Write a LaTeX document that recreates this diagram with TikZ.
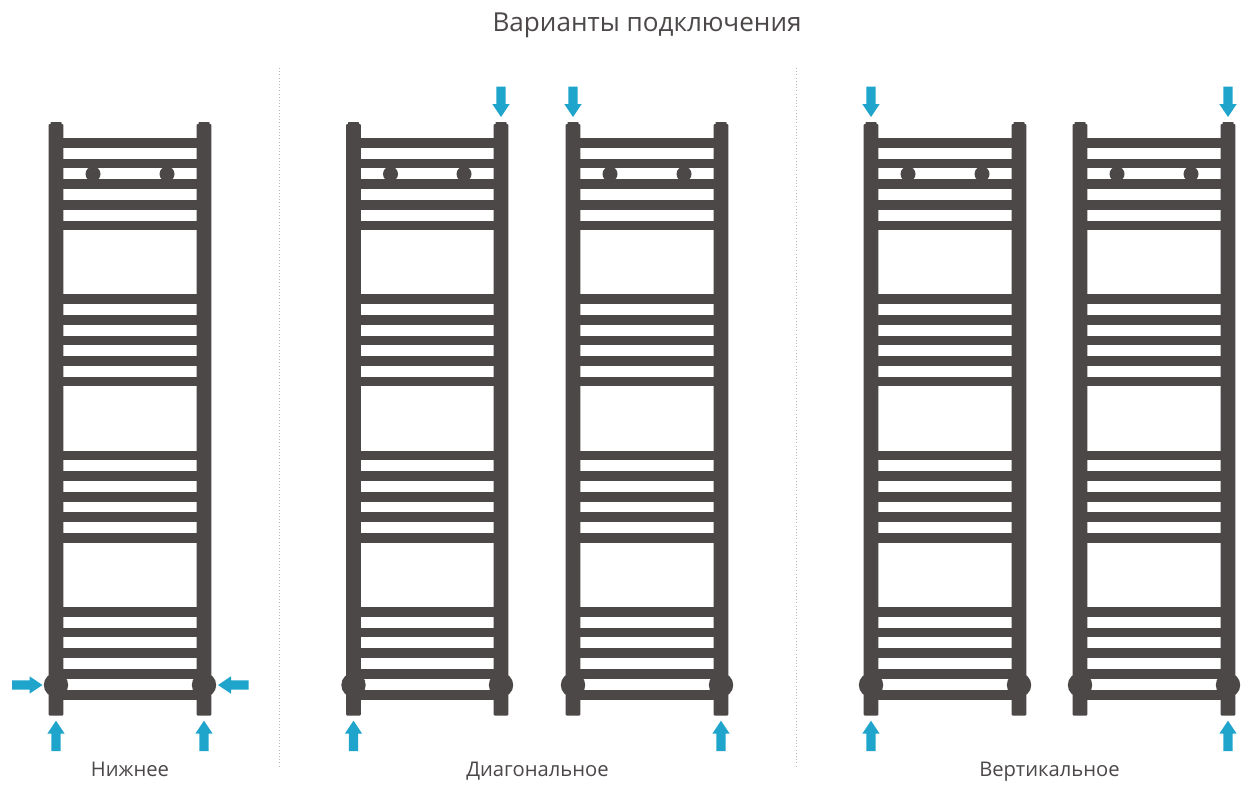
\documentclass[tikz,border=0pt]{standalone}
\usepackage{fontspec}
\setmainfont{Open Sans}
\definecolor{rail}{HTML}{4C4848}
\definecolor{flow}{HTML}{1FA5CC}
\definecolor{dots}{HTML}{B8B8B8}
\newcommand{\arrowshape}[3]{% x, y, rotate
  \fill[flow,shift={(#1,#2)},rotate=#3] (0,0) -- (8.7,13) -- (4.6,13) -- (4.6,30.5) -- (-4.6,30.5) -- (-4.6,13) -- (-8.7,13) -- cycle;}
\newcommand{\towel}[2]{% left rail x, right rail x
  \fill[rail,rounded corners=1pt] (#1-7.3,124) rectangle (#1+7.3,715.5);
  \fill[rail,rounded corners=1pt] (#2-7.3,124) rectangle (#2+7.3,715.5);
  \fill[rail,rounded corners=.6pt] (#1-5.5,122) rectangle (#1+5.5,126);
  \fill[rail,rounded corners=.6pt] (#2-5.5,122) rectangle (#2+5.5,126);
  \foreach \by in {143,163.5,184,205,225.5,299,320,340.5,361,381.5,455.5,476,497,517,538,612,632.5,653,674,694.7}
    {\fill[rail] (#1,\by-4.8) rectangle (#2,\by+4.8);}
  \fill[rail] (#1+37,174) circle (7.5);
  \fill[rail] (#2-37,174) circle (7.5);
  \fill[rail] (#1,685) circle (12.2);
  \fill[rail] (#2,685) circle (12.2);
}
\begin{document}
\begin{tikzpicture}[x=1pt,y=-1pt,
  caption/.style={text=rail,font=\fontsize{20.2}{24}\selectfont,anchor=base,inner sep=0pt},
  heading/.style={text=rail,font=\fontsize{26.1}{30}\selectfont,anchor=base,inner sep=0pt},
  sep/.style={dots,line width=.7pt,dash pattern=on .8pt off 2.4pt}]
\useasboundingbox (0,0) rectangle (1252,796);
\fill[white] (0,0) rectangle (1252,796);
\node[heading] (title) at (647,31) {Варианты подключения};
\coordinate (s1a) at (279,68); \coordinate (s1b) at (279,766);
\coordinate (s2a) at (796,68); \coordinate (s2b) at (796,766);
\draw[sep] (s1a) -- (s1b);
\draw[sep] (s2a) -- (s2b);
\towel{56}{204}
\towel{353.5}{501}
\towel{573}{721}
\towel{871}{1019}
\towel{1080}{1228}
% bottom arrows (pointing up)
\foreach \ax in {56,204,353.5,721,871,1228}
  {\arrowshape{\ax}{720.7}{0}}
% top arrows (pointing down)
\foreach \ax in {501,573,871,1228}
  {\arrowshape{\ax}{117}{180}}
% side arrows
\arrowshape{42.5}{685}{-90}
\arrowshape{218}{685}{90}
\node[caption] (l1) at (130,776.5) {Нижнее};
\node[caption] (l2) at (537.5,776.5) {Диагональное};
\node[caption] (l3) at (1049.5,776.5) {Вертикальное};
\end{tikzpicture}
\end{document}
